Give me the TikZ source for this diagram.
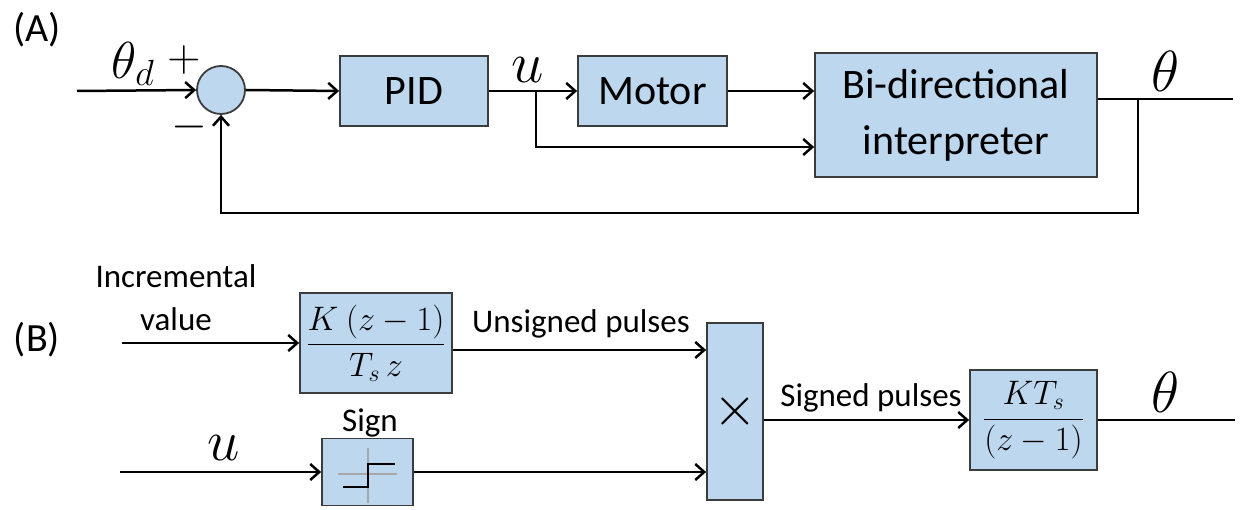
\RequirePackage{fix-cm}
\documentclass[tikz,border=0pt]{standalone}
\usepackage{fontspec}
\setmainfont{Carlito}
\usetikzlibrary{arrows.meta}
\definecolor{boxfill}{HTML}{BDD7EE}
\definecolor{boxline}{HTML}{3C3C3C}
\definecolor{icongray}{HTML}{A8A8A8}
\begin{document}
\begin{tikzpicture}[x=1pt,y=-1pt,
  blk/.style={draw=boxline, fill=boxfill, line width=1.8pt, inner sep=0pt},
  lbl/.style={inner sep=0pt, font=\fontsize{42}{50}\selectfont},
  small/.style={inner sep=0pt, font=\fontsize{33}{43}\selectfont},
  wire/.style={line width=2.5pt, black},
  arr/.style={wire, -{Straight Barb[length=9pt,width=16pt,line width=2.5pt]}},
  mathbig/.style={inner sep=0pt, font=\fontsize{58}{60}\selectfont},
]
\useasboundingbox (0,0) rectangle (1244,510);

% ---------------- (A) ----------------
\node[lbl, font=\fontsize{40}{48}\selectfont] (labA) at (37,30) {(A)};
\coordinate (inA) at (77,91);
\node[blk, circle, minimum size=48pt] (sum) at (221,90) {};
\node[inner sep=0pt, font=\fontsize{52}{56}\selectfont] (thd) at (133,64) {$\theta_d$};
\node[inner sep=0pt, font=\fontsize{46}{50}\selectfont] (plus) at (184,60) {$+$};
\node[inner sep=0pt, font=\fontsize{46}{50}\selectfont] (minus) at (189,127) {$-$};
\node[blk, lbl, minimum width=148pt, minimum height=70pt] (pid) at (414,91) {PID};
\coordinate (jA) at (536,91);
\node[mathbig] (uA) at (528,70) {$u$};
\node[blk, lbl, minimum width=149pt, minimum height=70pt] (motor) at (652.5,91) {Motor};
\node[blk, lbl, minimum width=282pt, minimum height=124pt, align=center,
      font=\fontsize{42}{56}\selectfont] (bi) at (956,115) {Bi-directional\\interpreter};
\coordinate (outA) at (1233,99);
\coordinate (tapA) at (1138,99);
\coordinate (fbA) at (1138,213);
\coordinate (brA) at (536,147);
\node[mathbig] (thA) at (1166,71) {$\theta$};

\draw[arr] (inA) -- (sum.west);
\draw[arr] (sum.east) -- (pid.west);
\draw[wire] (pid.east) -- (jA);
\draw[arr] (jA) -- (motor.west);
\draw[arr] (motor.east) -- (bi.west |- motor.east);
\draw[arr] (jA) -- (brA) -- (bi.west |- brA);
\draw[wire] (bi.east |- outA) -- (outA);
\draw[arr] (tapA) -- (fbA) -- (sum.south |- fbA) -- (sum.south);

% ---------------- (B) ----------------
\node[lbl, font=\fontsize{40}{48}\selectfont] (labB) at (37,340) {(B)};
\node[small, align=center] (incr) at (176,298) {Incremental\\value};
\coordinate (inB) at (122,343);
\node[blk, minimum width=152pt, minimum height=100pt,
      font=\fontsize{34}{40}\selectfont] (kbox) at (376,343)
      {$\displaystyle\frac{K\ (z-1)}{T_s\, z}$};
\node[blk, minimum width=56pt, minimum height=177pt,
      font=\fontsize{56}{60}\selectfont] (mul) at (735,411.5) {$\times$};
\node[small] (unsig) at (581,324) {Unsigned pulses};
\coordinate (inU) at (120,472);
\node[mathbig] (uB) at (224,448) {$u$};
\node[blk, minimum width=91pt, minimum height=67pt] (sign) at (367.5,472) {};
\node[small] (signlbl) at (370,423) {Sign};
\node[blk, minimum width=127pt, minimum height=100pt,
      font=\fontsize{34}{40}\selectfont] (kts) at (1033.5,420)
      {$\displaystyle\frac{KT_s}{(z-1)}$};
\node[small] (sig) at (871,398) {Signed pulses};
\coordinate (outB) at (1235,420);
\node[mathbig] (thB) at (1166,392) {$\theta$};

% sign icon
\draw[icongray, line width=1.4pt] (368,448) -- (368,503);
\draw[icongray, line width=1.4pt] (338,474) -- (397,474);
\draw[black, line width=2.2pt] (343,487) -- (368,487) -- (368,464) -- (395,464);

\draw[arr] (inB) -- (kbox.west);
\draw[arr] ([yshift=-7pt]kbox.east) -- ([yshift=-7pt]kbox.east -| mul.west);
\draw[arr] (inU) -- (sign.west);
\draw[arr] (sign.east) -- (sign.east -| mul.west);
\draw[arr] (mul.east |- kts.west) -- (kts.west);
\draw[wire] (kts.east) -- (outB);
\end{tikzpicture}
\end{document}
